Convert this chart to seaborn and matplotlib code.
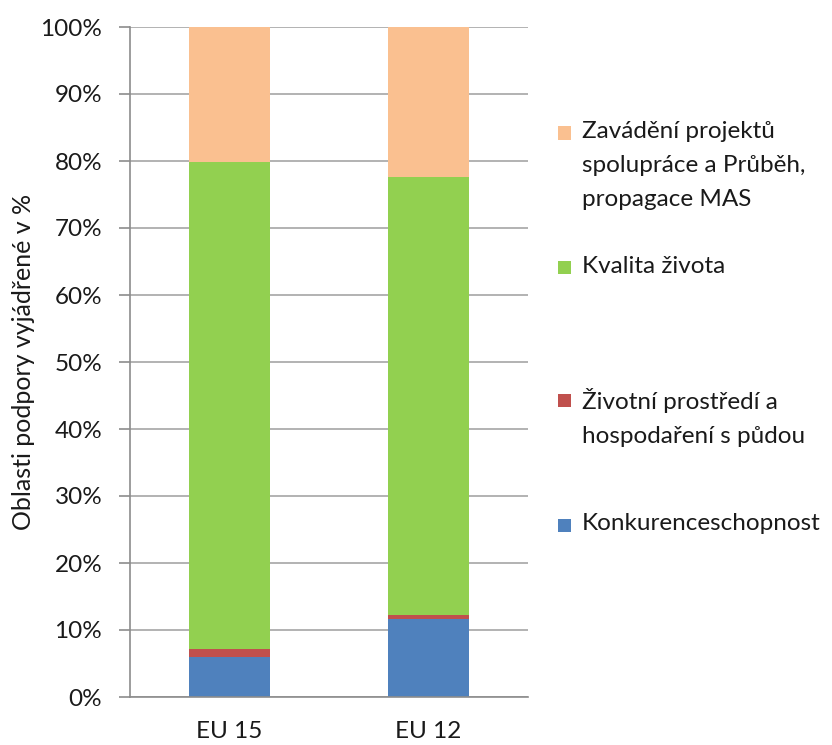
import matplotlib
matplotlib.use("Agg")
import matplotlib.pyplot as plt
import seaborn as sns
import pandas as pd
from matplotlib.patches import Rectangle
from matplotlib.ticker import PercentFormatter

categories = ["EU 15", "EU 12"]
series_names = [
    "Konkurenceschopnost",
    "Životní prostředí a\nhospodaření s půdou",
    "Kvalita života",
    "Zavádění projektů\nspolupráce a Průběh,\npropagace MAS",
]
konkurenceschopnost = [6.0, 11.6]
zivotni_prostredi = [1.1, 0.6]
kvalita_zivota = [72.8, 65.4]
zavadeni_projektu = [20.1, 22.4]
series_values = [konkurenceschopnost, zivotni_prostredi, kvalita_zivota, zavadeni_projektu]
colors = ["#4F81BD", "#C0504D", "#92D050", "#FAC090"]
y_ticks = list(range(0, 101, 10))

sns.set_theme(style="white")
plt.rcParams["font.family"] = ["Lato", "DejaVu Sans"]
FS = 17.5
TXT = "#1a1a1a"

fig = plt.figure(figsize=(8.32, 7.45), dpi=100)
ax = fig.add_axes([130 / 832, 1 - 697 / 745, 398 / 832, 670 / 745])

bottom = [0.0, 0.0]
for name, vals, col in zip(series_names, series_values, colors):
    df = pd.DataFrame({"cat": categories, "val": vals})
    sns.barplot(data=df, x="cat", y="val", order=categories, color=col,
                width=0.41, bottom=bottom, ax=ax, saturation=1, errorbar=None,
                linewidth=0)
    bottom = [b + v for b, v in zip(bottom, vals)]

ax.set_xlim(-0.5, 1.5)
ax.set_ylim(0, 100)
ax.set_yticks(y_ticks)
ax.yaxis.set_major_formatter(PercentFormatter(decimals=0))
ax.grid(axis="y", color="#a6a6a6", linewidth=1.2)
ax.set_axisbelow(True)
for s in ["top", "right"]:
    ax.spines[s].set_visible(False)
for s in ["left", "bottom"]:
    ax.spines[s].set_color("#8c8c8c")
    ax.spines[s].set_linewidth(1.2)
ax.set_xticks([0, 1])
ax.set_xticklabels(categories)
ax.set_xticks([-0.5, 0.5, 1.5], minor=True)
ax.tick_params(axis="x", which="major", length=0, pad=17, labelsize=FS, colors=TXT)
ax.tick_params(axis="x", which="minor", length=8, width=1.2, color="#8c8c8c", direction="out")
ax.tick_params(axis="y", length=8, width=1.2, color="#8c8c8c", direction="out", labelsize=FS,
               labelcolor=TXT, left=True, pad=12)
ax.set_xlabel("")
ax.set_ylabel("Oblasti podpory vyjádřené v %", fontsize=FS + 0.5, color=TXT, labelpad=4)

# legend (manual, markers aligned to first line as in the reference)
legend_y = [133, 268, 400, 525]  # pixel y of first text line
leg_order = [3, 2, 1, 0]
for ypix, idx in zip(legend_y, leg_order):
    yf = 1 - ypix / 745
    fig.patches.append(Rectangle((558 / 832, yf - 6.5 / 745), 13 / 832, 13 / 745,
                                 transform=fig.transFigure, facecolor=colors[idx],
                                 edgecolor="none"))
    fig.text(582 / 832, yf + 12 / 745, series_names[idx], ha="left", va="top",
             fontsize=FS, color=TXT, linespacing=1.75)

fig.savefig("out.png", dpi=100)
